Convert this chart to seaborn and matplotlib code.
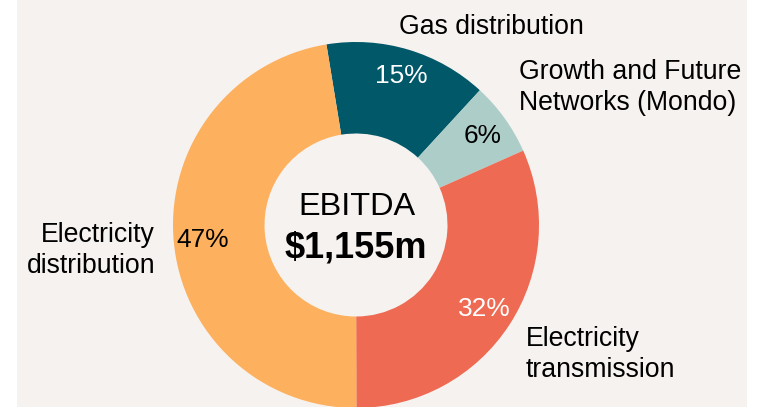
import matplotlib
matplotlib.use('Agg')
import matplotlib.pyplot as plt
import seaborn as sns
from matplotlib.patches import Rectangle

segments = ['Gas distribution', 'Growth and Future\nNetworks (Mondo)',
            'Electricity\ntransmission', 'Electricity\ndistribution']
shares = [14.4, 6.5, 31.6, 47.4]
pct_labels = ['15%', '6%', '32%', '47%']
total_label = '$1,155m'

colors = ['#005869', '#adcec8', '#ee6a53', '#fdb05d']
pct_colors = ['white', 'black', 'white', 'black']

sns.set_style('white')
plt.rcParams['font.family'] = ['Liberation Sans', 'DejaVu Sans']
plt.rcParams['text.color'] = 'black'

W, H = 767, 407
fig = plt.figure(figsize=(W / 100, H / 100), dpi=100)
fig.patch.set_facecolor('white')

ax = fig.add_axes([0, 0, 1, 1])
ax.patch.set_alpha(0)
ax.add_patch(Rectangle((17, 0), 730, H, facecolor='#f6f2ef', edgecolor='none', zorder=0))

cx, cy, R = 356, H - 225, 183
wedges, _ = ax.pie(shares, colors=colors, startangle=99.3, counterclock=False,
                   radius=R, center=(cx, cy),
                   wedgeprops=dict(width=R * 0.5, linewidth=0))
for w in wedges:
    w.set_zorder(1)
ax.set_xlim(0, W)
ax.set_ylim(0, H)
ax.set_aspect('equal')
ax.axis('off')

# helper: y = baseline of the last line, in pixels from the top
def txt(x, y, s, **kw):
    ax.text(x, H - y, s, va='baseline', zorder=3, **kw)

# percentage labels
pct_pos = [(401, 82.7), (483, 142.7), (484, 316), (203, 246.7)]
for (x, y), s, c in zip(pct_pos, pct_labels, pct_colors):
    txt(x, y, s, ha='center', fontsize=18.9, color=c)

# segment names
lab = dict(fontsize=19.2, color='black', linespacing=1.25)
txt(491, 34, segments[0], ha='center', **lab)
txt(519, 110, segments[1], ha='left', **lab)
txt(526, 377.3, segments[2], ha='left', **lab)
txt(155, 272.7, segments[3], ha='right', multialignment='right', **lab)

# centre text
txt(357, 215, 'EBITDA', ha='center', fontsize=23.4, color='black')
txt(356, 257.3, total_label, ha='center', fontsize=26, fontweight='bold', color='black')

plt.savefig('out.png', dpi=100)
